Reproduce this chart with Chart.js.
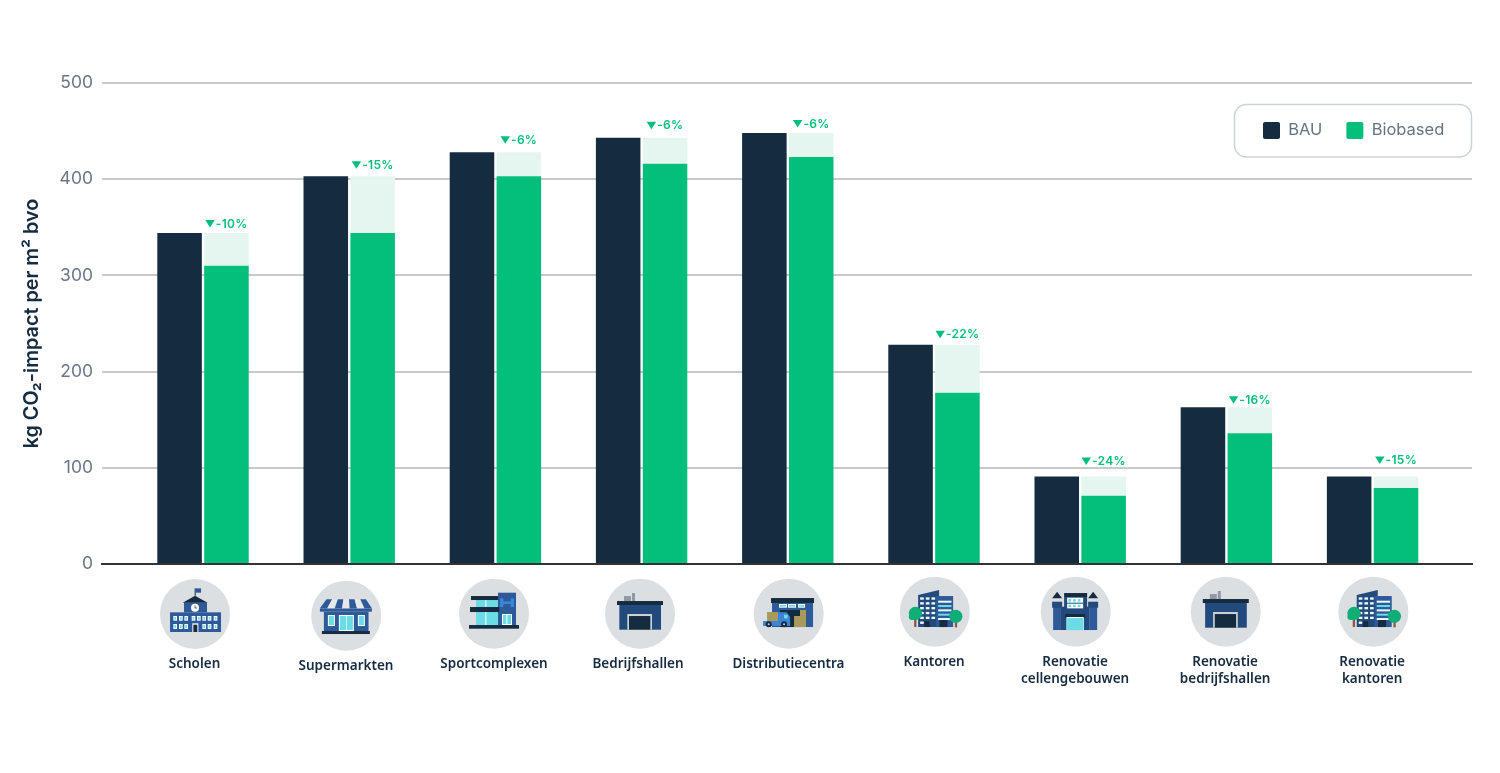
<!DOCTYPE html>
<html>
<head>
<meta charset="utf-8">
<script src="https://cdn.jsdelivr.net/npm/chart.js@4/dist/chart.umd.min.js"></script>
<style>
html,body{margin:0;padding:0;background:#fff;}
canvas{display:block;}
</style>
</head>
<body>
<canvas id="grafiek" width="1500" height="773"></canvas>
<script>
// data
const categorieen = [['Scholen'],['Supermarkten'],['Sportcomplexen'],['Bedrijfshallen'],['Distributiecentra'],['Kantoren'],['Renovatie','cellengebouwen'],['Renovatie','bedrijfshallen'],['Renovatie','kantoren']];
const bau = [344,403,428,443,448,228,91,163,91];
const biobased = [310,344,403,416,423,178,71,136,79];
const reductie = ['-10%','-15%','-6%','-6%','-6%','-22%','-24%','-16%','-15%'];
const yTicks = [0,100,200,300,400,500];
const iconen = ['school','winkel','sport','hal','distributie','kantoor','cellen','hal','kantoor'];

// small layout nudges of the labels and icons under the axis (px)
const labelDx = [-8.5,-3.2,-1.4,-3.6,0.7,0.1,-5.1,-1.3,-0.5];
const labelLineHeight = [21,25,21,21,21,17,17,17,17];
const iconDx = [-8,-3,-1.4,-1.6,0.9,0.8,-4.4,-0.6,0.8];
const iconY = [614,615.7,613.7,613.7,613.7,611.7,611.7,611.7,611.7];
const reductieDy = [9,11,12,12,9,10,15,7,16];

const NAVY = '#152b40', GROEN = '#04bf7c', LICHT = '#e5f6f0', GRID = '#c9c9c9';
const BLAUW = '#2f5a99', DIEP = '#234a7c', CYAAN = '#6bdce6', FEL = '#3a85d6', TAN = '#a89a5a';
const STAP = 146.19;

function punten(lijst){ return lijst.map((v,i)=>({x:i,y:v})); }

// icon helpers, coordinates are in a 3x grid around the circle centre
function rect(c,k,x0,y0,x1,y1){ c.fillStyle=k; c.fillRect(x0,y0,x1-x0,y1-y0); }
function poly(c,k,p){ c.fillStyle=k; c.beginPath(); p.forEach((q,i)=> i? c.lineTo(q[0],q[1]) : c.moveTo(q[0],q[1])); c.closePath(); c.fill(); }
function rond(c,k,x,y,r){ c.fillStyle=k; c.beginPath(); c.arc(x,y,r,0,Math.PI*2); c.fill(); }
function raam(c,x0,y0,x1,y1){ rect(c,'#fff',x0,y0,x1,y1); rect(c,CYAAN,x0+3,y0+3,x1-3,y1-3); }

const tekenIcoon = {
  school(c){
    rect(c,BLAUW,-75,-5,78,54); rect(c,BLAUW,-33,-34,36,-5);
    poly(c,NAVY,[[0,-55],[38,-34],[-37,-34]]);
    rect(c,NAVY,-1,-77,2,-55); rect(c,BLAUW,2,-77,18,-64);
    rond(c,'#fff',0,-19,12); rect(c,NAVY,-1,-26,1,-18); rect(c,NAVY,-1,-19,6,-17);
    [-65,-48,-32,-10,6,22,38,56].forEach(x=>raam(c,x,6,x+11,20));
    [-65,-48,-32,22,38,56].forEach(x=>raam(c,x,30,x+11,45));
    rect(c,'#fff',-8,28,10,54); rect(c,NAVY,-5,32,7,54);
  },
  winkel(c){
    rect(c,BLAUW,-67,-12,67,48); rect(c,NAVY,-73,46,71,55);
    rect(c,BLAUW,-79,-22,77,-12);
    for(let i=0;i<7;i++){
      const a=-59+i*(118/7), b=a+118/7, p=-79+i*(156/7), q=p+156/7;
      poly(c,i%2?'#e6e8ea':BLAUW,[[a,-49],[b,-49],[q,-22],[p,-22]]);
    }
    raam(c,-55,-2,-34,31); raam(c,-22,-2,23,46); rect(c,'#fff',0,-2,2,46); raam(c,35,-2,56,31);
  },
  sport(c){
    rect(c,BLAUW,12,-63,66,36);
    rect(c,CYAAN,-54,-41,12,34); rect(c,'#fff',-26,-41,-23,34);
    rect(c,NAVY,-69,-53,12,-41); rect(c,NAVY,-72,-20,16,-5);
    rect(c,FEL,24,-37,54,-29); rect(c,FEL,18,-46,28,-20); rect(c,FEL,50,-46,60,-20);
    raam(c,24,1,54,34); rect(c,'#fff',37,1,40,34);
    rect(c,NAVY,-75,34,75,45);
  },
  hal(c){
    rect(c,'#8f9aa5',-48,-53,-27,-38); rect(c,'#8f9aa5',-24,-62,-15,-38);
    rect(c,DIEP,-62,-26,63,48); rect(c,NAVY,-69,-38,69,-26);
    rect(c,'#cfd3d6',-38,1,36,48); rect(c,NAVY,-33,7,31,48);
  },
  distributie(c){
    rect(c,BLAUW,-50,-32,73,40); rect(c,NAVY,-53,-47,76,-32);
    [[-29,-5],[-2,22],[28,49]].forEach(r=>{ rect(c,'#fff',r[0],-29,r[1],-18); rect(c,CYAAN,r[0]+3,-26,r[1]-3,-21); });
    rect(c,NAVY,-26,-11,34,40);
    poly(c,TAN,[[16,40],[16,7],[34,7],[34,-11],[52,-11],[52,40]]);
    rect(c,TAN,-65,-5,-32,22);
    poly(c,FEL,[[-32,-4],[-6,-4],[4,10],[4,37],[-77,37],[-77,22],[-32,22]]);
    rect(c,CYAAN,-14,3,-3,14);
    rond(c,NAVY,-60,32,9); rond(c,NAVY,-14,32,9); rond(c,'#ccc',-60,32,3); rond(c,'#ccc',-14,32,3);
  },
  kantoor(c){
    poly(c,DIEP,[[-50,-50],[13,-65],[13,46],[-50,46]]);
    rect(c,BLAUW,4,-47,55,46);
    for(let r=0;r<6;r++) for(let k=0;k<3;k++) rect(c,r==5&&k==2?DIEP:'#e9fbfc',-44+k*17,-43+r*14.5,-33+k*17,-36+r*14.5);
    for(let r=0;r<5;r++) rect(c,r%2?CYAAN:'#e9fbfc',10,-33+r*13,50,-27+r*13);
    rect(c,NAVY,-32,28,-15,46); rect(c,NAVY,14,25,38,46);
    rect(c,'#8a5a4a',-62,15,-55,46); rond(c,'#0fae76',-58,5,20); rond(c,'#0fae76',-68,15,10);
    rect(c,'#8a5a4a',60,25,67,47); rond(c,'#0fae76',63,14,20);
  },
  cellen(c){
    rect(c,DIEP,-47,-15,40,55);
    rect(c,BLAUW,-68,-15,-47,55); rect(c,BLAUW,40,-15,64,55);
    rect(c,DIEP,-71,-30,-41,-12); rect(c,DIEP,37,-30,67,-12);
    poly(c,NAVY,[[-56,-60],[-41,-40],[-71,-40]]); poly(c,NAVY,[[52,-60],[67,-40],[37,-40]]);
    rect(c,NAVY,-35,-56,34,-44); rect(c,DIEP,-35,-44,34,-10);
    rect(c,'#fff',-26,-42,22,-10); rect(c,DIEP,-26,-27,22,-24);
    [-22,-8,6].forEach(x=>{ rect(c,CYAAN,x,-38,x+8,-30); rect(c,CYAAN,x,-21,x+8,-14); });
    rect(c,NAVY,-32,7,28,19);
    rect(c,'#fff',-28,16,24,55); rect(c,CYAAN,-26,19,22,55);
  }
};

const iconenPlugin = {
  id:'iconen',
  afterDraw(chart){
    const c = chart.ctx, sx = chart.scales.x;
    iconen.forEach((naam,i)=>{
      c.save();
      c.translate(sx.getPixelForValue(i)+iconDx[i], iconY[i]);
      rond(c,'#dcdfe2',0,0,35);
      c.scale(1/3,1/3);
      tekenIcoon[naam](c);
      c.restore();
    });
  }
};

// percentage above each biobased bar, with a small down triangle in front
const reductiePlugin = {
  id:'reductie',
  afterDatasetsDraw(chart){
    const c = chart.ctx, meta = chart.getDatasetMeta(2);
    c.save();
    c.fillStyle = GROEN;
    c.textAlign = 'left';
    c.textBaseline = 'middle';
    c.font = '600 12px Inter';
    c.letterSpacing = '0.3px';
    meta.data.forEach((el,i)=>{
      const w = c.measureText(reductie[i]).width, x = el.x-(w+10.5)/2, y = el.y-reductieDy[i];
      poly(c,GROEN,[[x,y-4],[x+9.5,y-4],[x+4.75,y+3.5]]);
      c.fillStyle = GROEN;
      c.fillText(reductie[i], x+10.5, y);
    });
    c.restore();
  }
};

// legend sits in a rounded box inside the plot
const legendaPlugin = {
  id:'legendaKader',
  afterLayout(chart){
    const l = chart.legend, b = l.width, h = l.height;
    l.left = 1239; l.right = 1239+b; l.top = 98; l.bottom = 98+h;
  },
  beforeDatasetsDraw(chart){
    const c = chart.ctx;
    c.save();
    c.strokeStyle = '#cfd2d5';
    c.lineWidth = 1.5;
    c.beginPath();
    c.roundRect(1234.5,104.5,237,52.5,12);
    c.stroke();
    c.restore();
  }
};

new Chart(document.getElementById('grafiek').getContext('2d'),{
  type:'bar',
  data:{
    datasets:[
      {label:'BAU',data:punten(bau),backgroundColor:NAVY,stack:'a'},
      {label:'Biobased',data:punten(biobased),backgroundColor:GROEN,stack:'b'},
      {label:'Besparing',data:punten(bau.map((v,i)=>v-biobased[i])),backgroundColor:LICHT,stack:'b'}
    ]
  },
  options:{
    responsive:false,
    animation:false,
    events:[],
    categoryPercentage:0.665,
    barPercentage:0.95,
    layout:{padding:{top:32,right:28,left:0,bottom:0}},
    plugins:{
      tooltip:{enabled:false},
      legend:{
        position:'top',
        align:'start',
        labels:{
          filter:item=>item.datasetIndex<2,
          boxWidth:17,
          boxHeight:17,
          padding:24,
          useBorderRadius:true,
          borderRadius:2,
          color:'#647383',
          font:{family:'Inter',size:16.5}
        }
      }
    },
    scales:{
      x:{
        type:'linear',
        offset:false,
        min:-0.691,
        max:8.680,
        grid:{display:false},
        border:{color:'#333',width:2},
        afterFit(s){ s.height = 209; },
        afterBuildTicks(s){ s.ticks = categorieen.map((c,i)=>({value:i+labelDx[i]/STAP})); },
        ticks:{
          autoSkip:false,
          maxRotation:0,
          padding:81.5,
          color:NAVY,
          font:ctx=>({family:'"Noto Sans"',size:13.5,weight:'600',lineHeight:labelLineHeight[ctx.index]+'px'}),
          callback:(v,i)=>categorieen[i]
        }
      },
      y:{
        stacked:true,
        min:0,
        max:500,
        afterFit(s){ s.width = 102; },
        afterBuildTicks(s){ s.ticks = yTicks.map(v=>({value:v})); },
        grid:{color:c=>c.tick.value===0?'#333':GRID,lineWidth:2,drawTicks:false},
        border:{display:false},
        ticks:{padding:9,color:'#6b7785',font:{family:'Inter',size:17.5}},
        title:{
          display:true,
          text:'kg CO\u2082-impact per m\u00B2 bvo',
          color:NAVY,
          padding:{top:20,bottom:0},
          font:{family:'Inter',size:19.8,weight:'600'}
        }
      }
    }
  },
  plugins:[legendaPlugin,reductiePlugin,iconenPlugin]
});
</script>
</body>
</html>
